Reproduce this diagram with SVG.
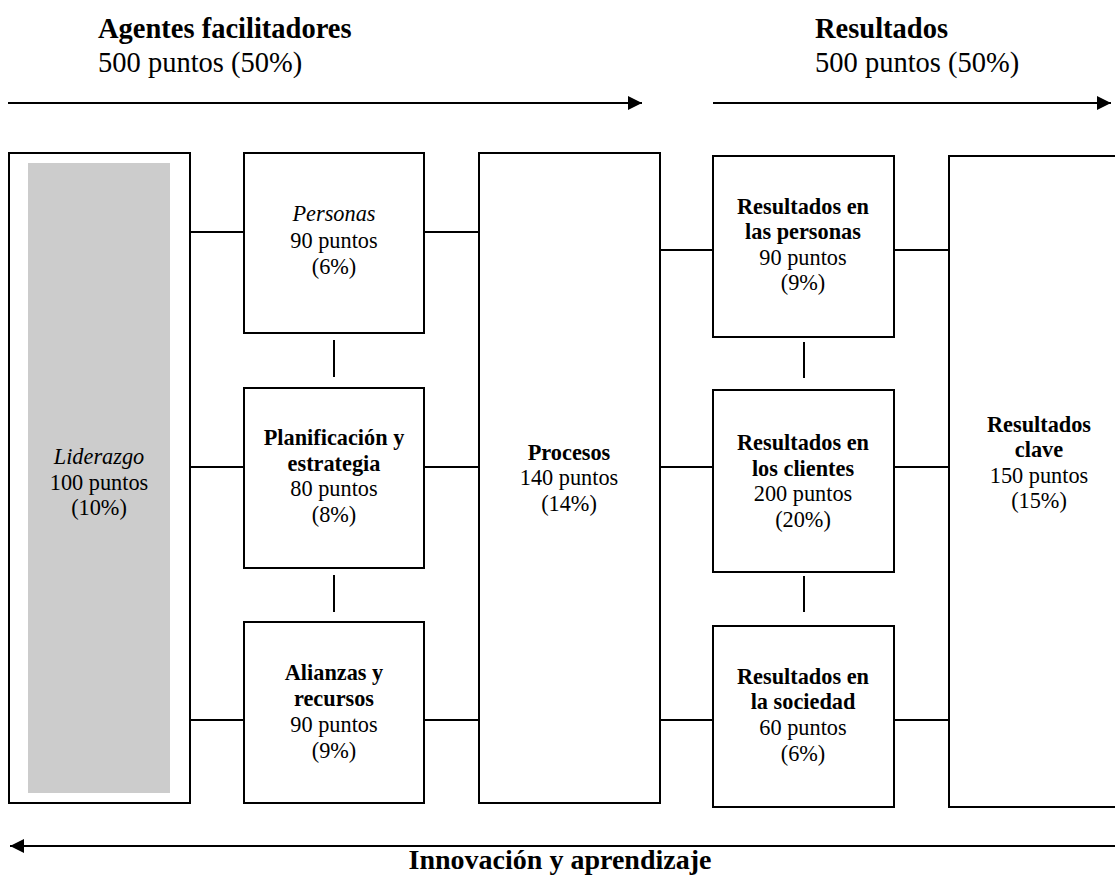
<svg xmlns="http://www.w3.org/2000/svg" width="1115" height="876" viewBox="0 0 1115 876" font-family="Liberation Serif">
<defs>
<marker id="ah" viewBox="0 0 10 10" refX="10" refY="5" markerWidth="15" markerHeight="14" markerUnits="userSpaceOnUse" orient="auto"><path d="M0,0 L10,5 L0,10 Z" fill="#000"/></marker>
<style>
text{fill:#000}
.t{font-size:22.3px;text-anchor:middle}
.b{font-weight:bold}
.i{font-style:italic}
.h{font-size:28.5px}
.box{fill:#fff;stroke:#000;stroke-width:2}
.ln{stroke:#000;stroke-width:2;fill:none}
</style>
</defs>
<rect width="1115" height="876" fill="#fff"/>
<text class="h b" x="98" y="38">Agentes facilitadores</text>
<text class="h" x="98" y="72">500 puntos (50%)</text>
<text class="h b" x="815" y="38">Resultados</text>
<text class="h" x="815" y="72">500 puntos (50%)</text>
<g id="connectors">
<line class="ln" x1="8" y1="103" x2="642" y2="103" marker-end="url(#ah)"/>
<line class="ln" x1="713" y1="103" x2="1111" y2="103" marker-end="url(#ah)"/>
<line class="ln" x1="1115" y1="846" x2="10" y2="846" marker-end="url(#ah)"/>
<line class="ln" x1="190" y1="232" x2="244" y2="232"/>
<line class="ln" x1="424" y1="232" x2="479" y2="232"/>
<line class="ln" x1="190" y1="467" x2="244" y2="467"/>
<line class="ln" x1="424" y1="467" x2="479" y2="467"/>
<line class="ln" x1="190" y1="720" x2="244" y2="720"/>
<line class="ln" x1="424" y1="720" x2="479" y2="720"/>
<line class="ln" x1="334" y1="340" x2="334" y2="377"/>
<line class="ln" x1="334" y1="575" x2="334" y2="612"/>
<line class="ln" x1="660" y1="250" x2="713" y2="250"/>
<line class="ln" x1="894" y1="250" x2="949" y2="250"/>
<line class="ln" x1="660" y1="467" x2="713" y2="467"/>
<line class="ln" x1="894" y1="467" x2="949" y2="467"/>
<line class="ln" x1="660" y1="720" x2="713" y2="720"/>
<line class="ln" x1="894" y1="720" x2="949" y2="720"/>
<line class="ln" x1="804" y1="342" x2="804" y2="378"/>
<line class="ln" x1="804" y1="576" x2="804" y2="612"/>
</g>
<g id="liderazgo">
<rect class="box" x="9" y="153" width="181" height="650"/>
<rect x="28" y="163" width="142" height="630" fill="#cccccc"/>
<text class="t i" x="99" y="464">Liderazgo</text>
<text class="t" x="99" y="490">100 puntos</text>
<text class="t" x="99" y="515">(10%)</text>
</g>
<g id="personas">
<rect class="box" x="244" y="153" width="180" height="180"/>
<text class="t i" x="334" y="221">Personas</text>
<text class="t" x="334" y="248">90 puntos</text>
<text class="t" x="334" y="274">(6%)</text>
</g>
<g id="planificacion">
<rect class="box" x="244" y="388" width="180" height="180"/>
<text class="t b" x="334" y="445">Planificación y</text>
<text class="t b" x="334" y="471">estrategia</text>
<text class="t" x="334" y="496">80 puntos</text>
<text class="t" x="334" y="522">(8%)</text>
</g>
<g id="alianzas">
<rect class="box" x="244" y="622" width="180" height="181"/>
<text class="t b" x="334" y="680">Alianzas y</text>
<text class="t b" x="334" y="706">recursos</text>
<text class="t" x="334" y="732">90 puntos</text>
<text class="t" x="334" y="758">(9%)</text>
</g>
<g id="procesos">
<rect class="box" x="479" y="153" width="181" height="650"/>
<text class="t b" x="569" y="460">Procesos</text>
<text class="t" x="569" y="485">140 puntos</text>
<text class="t" x="569" y="511">(14%)</text>
</g>
<g id="res-personas">
<rect class="box" x="713" y="156" width="181" height="181"/>
<text class="t b" x="803" y="214">Resultados en</text>
<text class="t b" x="803" y="239">las personas</text>
<text class="t" x="803" y="265">90 puntos</text>
<text class="t" x="803" y="290">(9%)</text>
</g>
<g id="res-clientes">
<rect class="box" x="713" y="390" width="181" height="182"/>
<text class="t b" x="803" y="450">Resultados en</text>
<text class="t b" x="803" y="476">los clientes</text>
<text class="t" x="803" y="501">200 puntos</text>
<text class="t" x="803" y="527">(20%)</text>
</g>
<g id="res-sociedad">
<rect class="box" x="713" y="626" width="181" height="181"/>
<text class="t b" x="803" y="684">Resultados en</text>
<text class="t b" x="803" y="709">la sociedad</text>
<text class="t" x="803" y="735">60 puntos</text>
<text class="t" x="803" y="761">(6%)</text>
</g>
<g id="res-clave">
<rect class="box" x="949" y="156" width="185" height="651"/>
<text class="t b" x="1039" y="432">Resultados</text>
<text class="t b" x="1039" y="457">clave</text>
<text class="t" x="1039" y="483">150 puntos</text>
<text class="t" x="1039" y="508">(15%)</text>
</g>
<text class="h b" x="560" y="869" text-anchor="middle" style="font-size:28px">Innovación y aprendizaje</text>
</svg>
